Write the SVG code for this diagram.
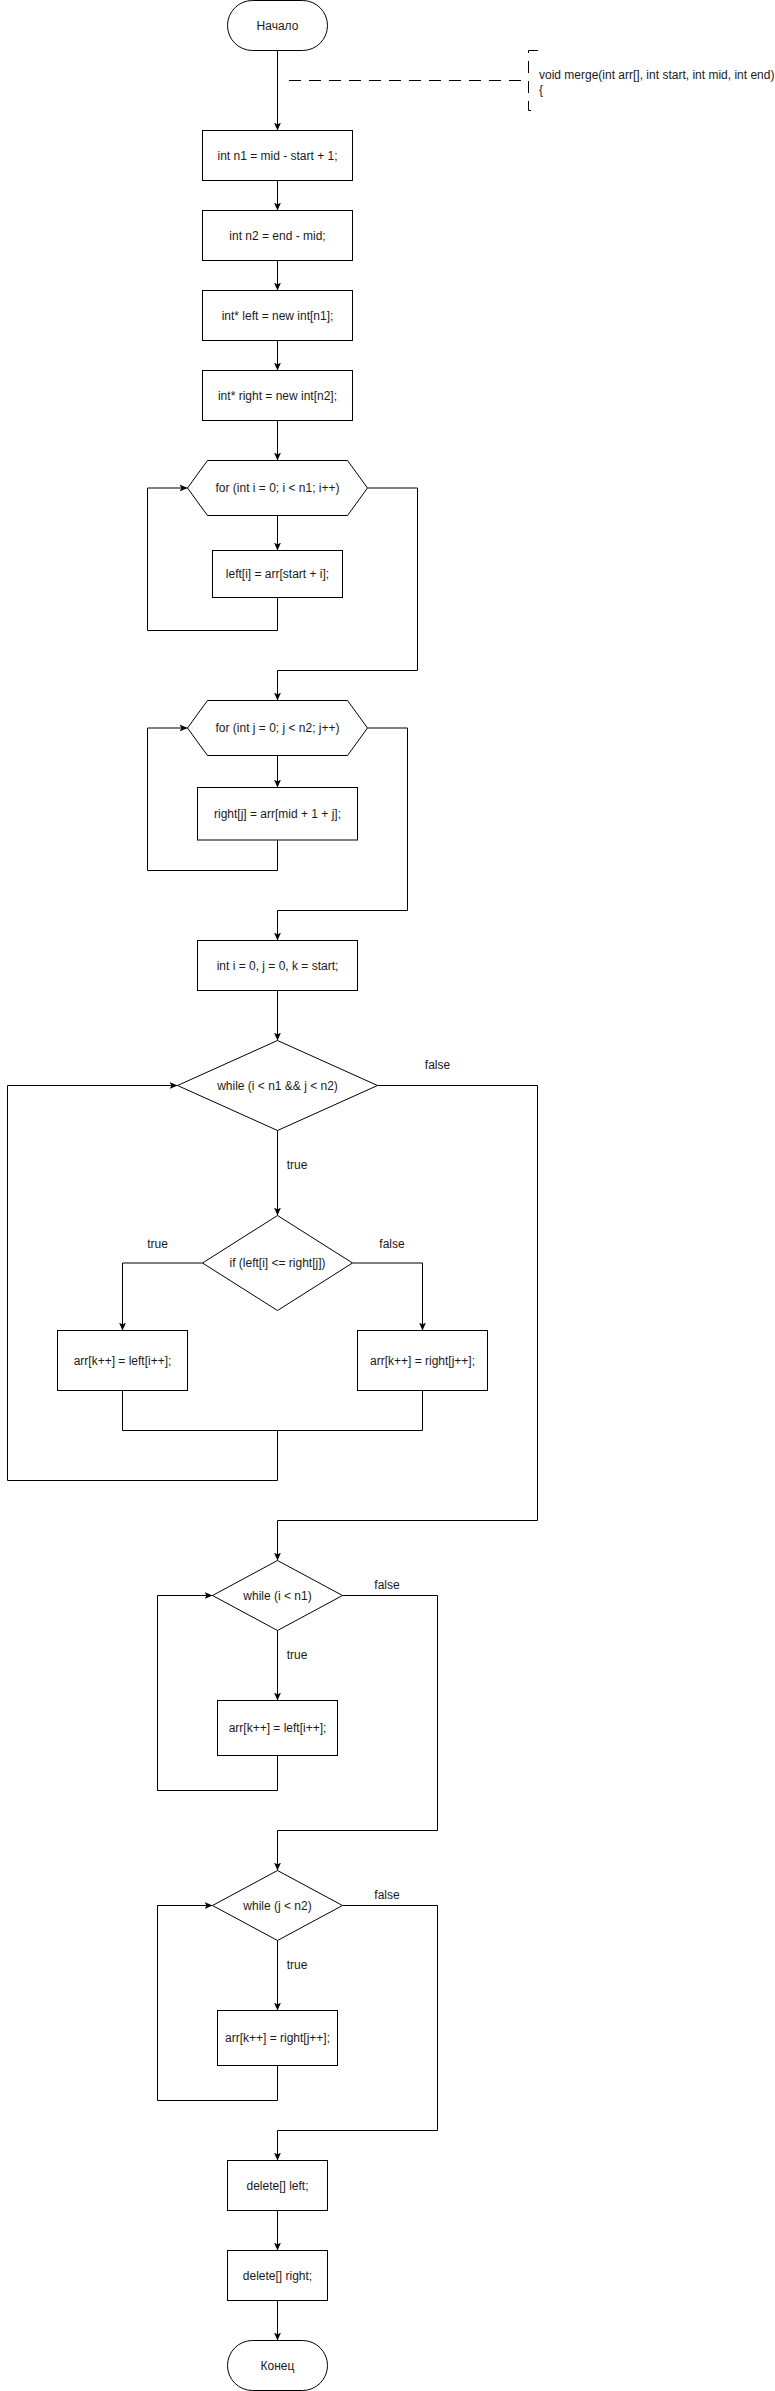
<svg xmlns="http://www.w3.org/2000/svg" width="775" height="2391" viewBox="0 0 775 2391">
<defs>
<marker id="arr" markerUnits="userSpaceOnUse" markerWidth="8" markerHeight="8" viewBox="0 0 8 8" refX="8" refY="4" orient="auto">
<path d="M0,0.5 L8,4 L0,7.5 L2,4 Z" fill="#000"/>
</marker>
<style>
.s{fill:#fff;stroke:#000;stroke-width:1}
.c{fill:none;stroke:#000;stroke-width:1}
.d{fill:none;stroke:#000;stroke-width:1;stroke-dasharray:12 8}
.t{font-family:"Liberation Sans",Arial,sans-serif;font-size:12px;fill:#1a1a1a;text-anchor:middle}
.l{font-family:"Liberation Sans",Arial,sans-serif;font-size:12px;fill:#1a1a1a}
</style>
</defs>
<rect width="775" height="2391" fill="#fff"/>

<g id="connectors">
<path class="c" d="M277.5 50.5 V130.5" marker-end="url(#arr)"/>
<path class="d" d="M289 80.5 H528"/>
<path class="c" d="M277.5 180.5 V210.5" marker-end="url(#arr)"/>
<path class="c" d="M277.5 260.5 V290.5" marker-end="url(#arr)"/>
<path class="c" d="M277.5 340.5 V370.5" marker-end="url(#arr)"/>
<path class="c" d="M277.5 420.5 V460.5" marker-end="url(#arr)"/>
<path class="c" d="M277.5 515.5 V550.5" marker-end="url(#arr)"/>
<path class="c" d="M277.5 597.5 V630.5 H147.5 V488 H187.5" marker-end="url(#arr)"/>
<path class="c" d="M367.5 488 H417.5 V670.5 H277.5 V700.5" marker-end="url(#arr)"/>
<path class="c" d="M277.5 755.5 V787.5" marker-end="url(#arr)"/>
<path class="c" d="M277.5 840 V870.5 H147.5 V728 H187.5" marker-end="url(#arr)"/>
<path class="c" d="M367.5 728 H407.5 V910.5 H277.5 V940.5" marker-end="url(#arr)"/>
<path class="c" d="M277.5 990.5 V1040.5" marker-end="url(#arr)"/>
<path class="c" d="M277.5 1130.5 V1215.5" marker-end="url(#arr)"/>
<path class="c" d="M202.5 1263 H122.5 V1330.5" marker-end="url(#arr)"/>
<path class="c" d="M352.5 1263 H422.5 V1330.5" marker-end="url(#arr)"/>
<path class="c" d="M122.5 1390.5 V1430.5 H422.5 V1390.5"/>
<path class="c" d="M277.5 1430.5 V1480.5 H7.5 V1085.5 H177.5" marker-end="url(#arr)"/>
<path class="c" d="M377.5 1085.5 H537.5 V1520.5 H277.5 V1560.5" marker-end="url(#arr)"/>
<path class="c" d="M277.5 1630.5 V1700.5" marker-end="url(#arr)"/>
<path class="c" d="M277.5 1755.5 V1790.5 H157.5 V1595.5 H212.5" marker-end="url(#arr)"/>
<path class="c" d="M342.5 1595.5 H437.5 V1830.5 H277.5 V1870.5" marker-end="url(#arr)"/>
<path class="c" d="M277.5 1940.5 V2010.5" marker-end="url(#arr)"/>
<path class="c" d="M277.5 2065.5 V2100.5 H157.5 V1905.5 H212.5" marker-end="url(#arr)"/>
<path class="c" d="M342.5 1905.5 H437.5 V2130.5 H277.5 V2160.5" marker-end="url(#arr)"/>
<path class="c" d="M277.5 2210.5 V2250.5" marker-end="url(#arr)"/>
<path class="c" d="M277.5 2300.5 V2340.5" marker-end="url(#arr)"/>
<text class="t" x="437.5" y="1069">false</text>
<text class="t" x="297" y="1169">true</text>
<text class="t" x="157.5" y="1248">true</text>
<text class="t" x="392" y="1248">false</text>
<text class="t" x="387" y="1588.5">false</text>
<text class="t" x="297" y="1659">true</text>
<text class="t" x="387" y="1898.5">false</text>
<text class="t" x="297" y="1969">true</text>
</g>

<g id="start">
<rect class="s" x="227.5" y="0.5" width="100" height="50" rx="25" ry="25"/>
<text class="t" x="277.5" y="29.5">Начало</text>
</g>

<g id="comment">
<path class="d" d="M538 50.5 H528.5 V110.5 H538"/>
<text class="l" x="539" y="78.5">void merge(int arr[], int start, int mid, int end)</text>
<text class="l" x="539" y="93.5">{</text>
</g>

<g id="n1">
<rect class="s" x="202.5" y="130.5" width="150" height="50"/>
<text class="t" x="277.5" y="159.5">int n1 = mid - start + 1;</text>
</g>
<g id="n2">
<rect class="s" x="202.5" y="210.5" width="150" height="50"/>
<text class="t" x="277.5" y="239.5">int n2 = end - mid;</text>
</g>
<g id="leftAlloc">
<rect class="s" x="202.5" y="290.5" width="150" height="50"/>
<text class="t" x="277.5" y="319.5">int* left = new int[n1];</text>
</g>
<g id="rightAlloc">
<rect class="s" x="202.5" y="370.5" width="150" height="50"/>
<text class="t" x="277.5" y="399.5">int* right = new int[n2];</text>
</g>

<g id="for1">
<polygon class="s" points="187.5,488 207.5,460.5 347.5,460.5 367.5,488 347.5,515.5 207.5,515.5"/>
<text class="t" x="277.5" y="492">for (int i = 0; i &lt; n1; i++)</text>
</g>
<g id="copyLeft">
<rect class="s" x="212.5" y="550.5" width="130" height="47"/>
<text class="t" x="277.5" y="578">left[i] = arr[start + i];</text>
</g>

<g id="for2">
<polygon class="s" points="187.5,728 207.5,700.5 347.5,700.5 367.5,728 347.5,755.5 207.5,755.5"/>
<text class="t" x="277.5" y="732">for (int j = 0; j &lt; n2; j++)</text>
</g>
<g id="copyRight">
<rect class="s" x="197.5" y="787.5" width="160" height="52.5"/>
<text class="t" x="277.5" y="818">right[j] = arr[mid + 1 + j];</text>
</g>

<g id="initIdx">
<rect class="s" x="197.5" y="940.5" width="160" height="50"/>
<text class="t" x="277.5" y="969.5">int i = 0, j = 0, k = start;</text>
</g>

<g id="while1">
<polygon class="s" points="177.5,1085.5 277.5,1040.5 377.5,1085.5 277.5,1130.5"/>
<text class="t" x="277.5" y="1089.5">while (i &lt; n1 &amp;&amp; j &lt; n2)</text>
</g>
<g id="ifCmp">
<polygon class="s" points="202.5,1263 277.5,1215.5 352.5,1263 277.5,1310.5"/>
<text class="t" x="277.5" y="1267">if (left[i] &lt;= right[j])</text>
</g>
<g id="takeLeft">
<rect class="s" x="57.5" y="1330.5" width="130" height="60"/>
<text class="t" x="122.5" y="1364.5">arr[k++] = left[i++];</text>
</g>
<g id="takeRight">
<rect class="s" x="357.5" y="1330.5" width="130" height="60"/>
<text class="t" x="422.5" y="1364.5">arr[k++] = right[j++];</text>
</g>

<g id="while2">
<polygon class="s" points="212.5,1595.5 277.5,1560.5 342.5,1595.5 277.5,1630.5"/>
<text class="t" x="277.5" y="1599.5">while (i &lt; n1)</text>
</g>
<g id="restLeft">
<rect class="s" x="217.5" y="1700.5" width="120" height="55"/>
<text class="t" x="277.5" y="1732">arr[k++] = left[i++];</text>
</g>

<g id="while3">
<polygon class="s" points="212.5,1905.5 277.5,1870.5 342.5,1905.5 277.5,1940.5"/>
<text class="t" x="277.5" y="1909.5">while (j &lt; n2)</text>
</g>
<g id="restRight">
<rect class="s" x="217.5" y="2010.5" width="120" height="55"/>
<text class="t" x="277.5" y="2042">arr[k++] = right[j++];</text>
</g>

<g id="delLeft">
<rect class="s" x="227.5" y="2160.5" width="100" height="50"/>
<text class="t" x="277.5" y="2189.5">delete[] left;</text>
</g>
<g id="delRight">
<rect class="s" x="227.5" y="2250.5" width="100" height="50"/>
<text class="t" x="277.5" y="2279.5">delete[] right;</text>
</g>
<g id="end">
<rect class="s" x="227.5" y="2340.5" width="100" height="50" rx="25" ry="25"/>
<text class="t" x="277.5" y="2369.5">Конец</text>
</g>
</svg>
